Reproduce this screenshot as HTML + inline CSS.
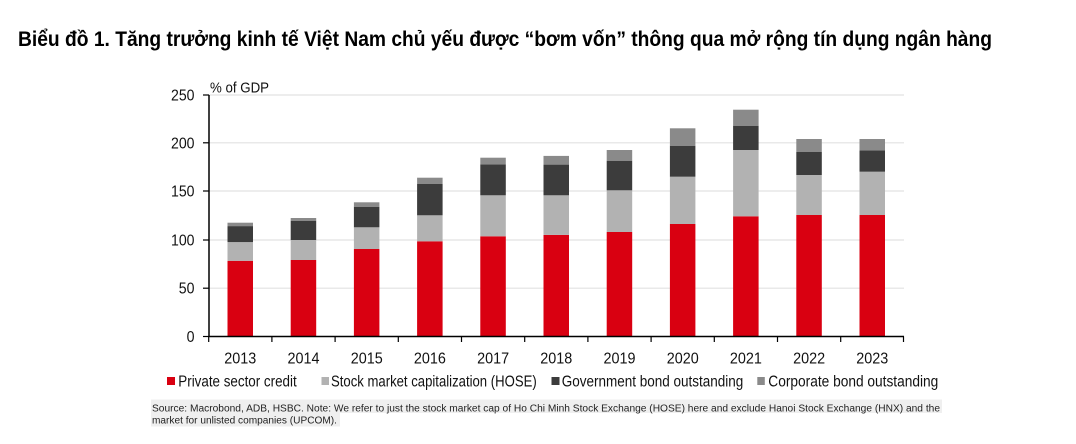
<!DOCTYPE html>
<html>
<head>
<meta charset="utf-8">
<style>
html,body{margin:0;padding:0;background:#fff;}
svg{display:block;}
text{font-family:"Liberation Sans", Arial, sans-serif;fill:#111;}
</style>
</head>
<body>
<svg width="1076" height="444" viewBox="0 0 1076 444" xmlns="http://www.w3.org/2000/svg">
<rect x="0" y="0" width="1076" height="444" fill="#fff"/>
<!-- Title -->
<text x="18" y="46" font-size="21" font-weight="bold" textLength="974" lengthAdjust="spacingAndGlyphs" style="font-family:'Liberation Sans','Noto Sans CJK SC',sans-serif;fill:#000">Biểu đồ 1. Tăng trưởng kinh tế Việt Nam chủ yếu được “bơm vốn” thông qua mở rộng tín dụng ngân hàng</text>

<!-- gridlines -->
<g stroke="#e2e2e2" stroke-width="1.2">
<line x1="209" y1="95" x2="904" y2="95"/>
<line x1="209" y1="142.8" x2="904" y2="142.8"/>
<line x1="209" y1="191" x2="904" y2="191"/>
<line x1="209" y1="240" x2="904" y2="240"/>
<line x1="209" y1="288.2" x2="904" y2="288.2"/>
</g>

<!-- bars -->
<g>
<!-- 2013 -->
<rect x="227.5" y="260.8" width="25.5" height="75.7" fill="#d90011"/>
<rect x="227.5" y="242.1" width="25.5" height="18.7" fill="#b2b2b2"/>
<rect x="227.5" y="226.1" width="25.5" height="16" fill="#3c3c3c"/>
<rect x="227.5" y="222.7" width="25.5" height="3.4" fill="#8a8a8a"/>
<!-- 2014 -->
<rect x="290.7" y="260" width="25.5" height="76.5" fill="#d90011"/>
<rect x="290.7" y="240" width="25.5" height="20" fill="#b2b2b2"/>
<rect x="290.7" y="220.7" width="25.5" height="19.3" fill="#3c3c3c"/>
<rect x="290.7" y="218" width="25.5" height="2.7" fill="#8a8a8a"/>
<!-- 2015 -->
<rect x="353.9" y="249" width="25.5" height="87.5" fill="#d90011"/>
<rect x="353.9" y="227.3" width="25.5" height="21.7" fill="#b2b2b2"/>
<rect x="353.9" y="206.7" width="25.5" height="20.6" fill="#3c3c3c"/>
<rect x="353.9" y="202.3" width="25.5" height="4.4" fill="#8a8a8a"/>
<!-- 2016 -->
<rect x="417.1" y="241.3" width="25.5" height="95.2" fill="#d90011"/>
<rect x="417.1" y="215.3" width="25.5" height="26" fill="#b2b2b2"/>
<rect x="417.1" y="184" width="25.5" height="31.3" fill="#3c3c3c"/>
<rect x="417.1" y="177.7" width="25.5" height="6.3" fill="#8a8a8a"/>
<!-- 2017 -->
<rect x="480.3" y="236.3" width="25.5" height="100.2" fill="#d90011"/>
<rect x="480.3" y="195.3" width="25.5" height="41" fill="#b2b2b2"/>
<rect x="480.3" y="164.3" width="25.5" height="31" fill="#3c3c3c"/>
<rect x="480.3" y="157.7" width="25.5" height="6.6" fill="#8a8a8a"/>
<!-- 2018 -->
<rect x="543.5" y="234.9" width="25.5" height="101.6" fill="#d90011"/>
<rect x="543.5" y="195.3" width="25.5" height="39.6" fill="#b2b2b2"/>
<rect x="543.5" y="164.6" width="25.5" height="30.7" fill="#3c3c3c"/>
<rect x="543.5" y="155.9" width="25.5" height="8.7" fill="#8a8a8a"/>
<!-- 2019 -->
<rect x="606.7" y="232" width="25.5" height="104.5" fill="#d90011"/>
<rect x="606.7" y="190.3" width="25.5" height="41.7" fill="#b2b2b2"/>
<rect x="606.7" y="160.7" width="25.5" height="29.6" fill="#3c3c3c"/>
<rect x="606.7" y="150" width="25.5" height="10.7" fill="#8a8a8a"/>
<!-- 2020 -->
<rect x="669.9" y="224" width="25.5" height="112.5" fill="#d90011"/>
<rect x="669.9" y="176.7" width="25.5" height="47.3" fill="#b2b2b2"/>
<rect x="669.9" y="145.7" width="25.5" height="31" fill="#3c3c3c"/>
<rect x="669.9" y="128.3" width="25.5" height="17.4" fill="#8a8a8a"/>
<!-- 2021 -->
<rect x="733.1" y="216.3" width="25.5" height="120.2" fill="#d90011"/>
<rect x="733.1" y="150" width="25.5" height="66.3" fill="#b2b2b2"/>
<rect x="733.1" y="125.7" width="25.5" height="24.3" fill="#3c3c3c"/>
<rect x="733.1" y="109.7" width="25.5" height="16" fill="#8a8a8a"/>
<!-- 2022 -->
<rect x="796.3" y="215" width="25.5" height="121.5" fill="#d90011"/>
<rect x="796.3" y="175" width="25.5" height="40" fill="#b2b2b2"/>
<rect x="796.3" y="152" width="25.5" height="23" fill="#3c3c3c"/>
<rect x="796.3" y="139" width="25.5" height="13" fill="#8a8a8a"/>
<!-- 2023 -->
<rect x="859.5" y="215" width="25.5" height="121.5" fill="#d90011"/>
<rect x="859.5" y="171.7" width="25.5" height="43.3" fill="#b2b2b2"/>
<rect x="859.5" y="150.3" width="25.5" height="21.4" fill="#3c3c3c"/>
<rect x="859.5" y="139" width="25.5" height="11.3" fill="#8a8a8a"/>
</g>

<!-- axes -->
<g stroke="#000" stroke-width="1.5">
<line x1="209" y1="95" x2="209" y2="337"/>
<line x1="208.3" y1="336.5" x2="904" y2="336.5"/>
</g>
<g stroke="#000" stroke-width="1.2">
<line x1="203" y1="95" x2="209" y2="95"/>
<line x1="203" y1="142.8" x2="209" y2="142.8"/>
<line x1="203" y1="191" x2="209" y2="191"/>
<line x1="203" y1="240" x2="209" y2="240"/>
<line x1="203" y1="288.2" x2="209" y2="288.2"/>
<line x1="203" y1="336.5" x2="209" y2="336.5"/>
<line x1="208.7" y1="336.5" x2="208.7" y2="342"/>
<line x1="271.9" y1="336.5" x2="271.9" y2="342"/>
<line x1="335.1" y1="336.5" x2="335.1" y2="342"/>
<line x1="398.3" y1="336.5" x2="398.3" y2="342"/>
<line x1="461.5" y1="336.5" x2="461.5" y2="342"/>
<line x1="524.7" y1="336.5" x2="524.7" y2="342"/>
<line x1="587.9" y1="336.5" x2="587.9" y2="342"/>
<line x1="651.1" y1="336.5" x2="651.1" y2="342"/>
<line x1="714.3" y1="336.5" x2="714.3" y2="342"/>
<line x1="777.5" y1="336.5" x2="777.5" y2="342"/>
<line x1="840.7" y1="336.5" x2="840.7" y2="342"/>
<line x1="903.5" y1="336.5" x2="903.5" y2="342"/>
</g>

<!-- y labels -->
<g font-size="16" text-anchor="end">
<text x="194.5" y="100.5" textLength="23.5" lengthAdjust="spacingAndGlyphs">250</text>
<text x="194.5" y="148.3" textLength="23.5" lengthAdjust="spacingAndGlyphs">200</text>
<text x="194.5" y="196.5" textLength="23.5" lengthAdjust="spacingAndGlyphs">150</text>
<text x="194.5" y="245.5" textLength="23.5" lengthAdjust="spacingAndGlyphs">100</text>
<text x="194.5" y="293.7" textLength="15.7" lengthAdjust="spacingAndGlyphs">50</text>
<text x="194.5" y="342" textLength="7.9" lengthAdjust="spacingAndGlyphs">0</text>
</g>
<text x="210" y="92.5" font-size="15" textLength="59" lengthAdjust="spacingAndGlyphs">% of GDP</text>

<!-- x labels -->
<g font-size="16" text-anchor="middle">
<text x="240.3" y="363.3" textLength="32" lengthAdjust="spacingAndGlyphs">2013</text>
<text x="303.5" y="363.3" textLength="32" lengthAdjust="spacingAndGlyphs">2014</text>
<text x="366.7" y="363.3" textLength="32" lengthAdjust="spacingAndGlyphs">2015</text>
<text x="429.9" y="363.3" textLength="32" lengthAdjust="spacingAndGlyphs">2016</text>
<text x="493.1" y="363.3" textLength="32" lengthAdjust="spacingAndGlyphs">2017</text>
<text x="556.3" y="363.3" textLength="32" lengthAdjust="spacingAndGlyphs">2018</text>
<text x="619.5" y="363.3" textLength="32" lengthAdjust="spacingAndGlyphs">2019</text>
<text x="682.7" y="363.3" textLength="32" lengthAdjust="spacingAndGlyphs">2020</text>
<text x="745.9" y="363.3" textLength="32" lengthAdjust="spacingAndGlyphs">2021</text>
<text x="809.1" y="363.3" textLength="32" lengthAdjust="spacingAndGlyphs">2022</text>
<text x="872.3" y="363.3" textLength="32" lengthAdjust="spacingAndGlyphs">2023</text>
</g>

<!-- legend -->
<rect x="167" y="377" width="8" height="8" fill="#d90011"/>
<text x="178.3" y="386.3" font-size="15.5" textLength="118.4" lengthAdjust="spacingAndGlyphs">Private sector credit</text>
<rect x="321.5" y="377" width="7.5" height="8" fill="#b2b2b2"/>
<text x="331" y="386.3" font-size="15.5" textLength="205.7" lengthAdjust="spacingAndGlyphs">Stock market capitalization (HOSE)</text>
<rect x="551.5" y="377" width="8" height="8" fill="#3c3c3c"/>
<text x="561.7" y="386.3" font-size="15.5" textLength="181.6" lengthAdjust="spacingAndGlyphs">Government bond outstanding</text>
<rect x="757.3" y="377" width="7.5" height="8" fill="#8a8a8a"/>
<text x="768.3" y="386.3" font-size="15.5" textLength="170" lengthAdjust="spacingAndGlyphs">Corporate bond outstanding</text>

<!-- source note -->
<rect x="151" y="399.5" width="791" height="13.5" fill="#efefef"/>
<rect x="151" y="413" width="189" height="13.5" fill="#efefef"/>
<text x="152" y="411.5" font-size="10" textLength="788" lengthAdjust="spacingAndGlyphs" style="fill:#222">Source: Macrobond, ADB, HSBC. Note: We refer to just the stock market cap of Ho Chi Minh Stock Exchange (HOSE) here and exclude Hanoi Stock Exchange (HNX) and the</text>
<text x="152" y="423.5" font-size="10" textLength="185" lengthAdjust="spacingAndGlyphs" style="fill:#222">market for unlisted companies (UPCOM).</text>
</svg>
</body>
</html>
